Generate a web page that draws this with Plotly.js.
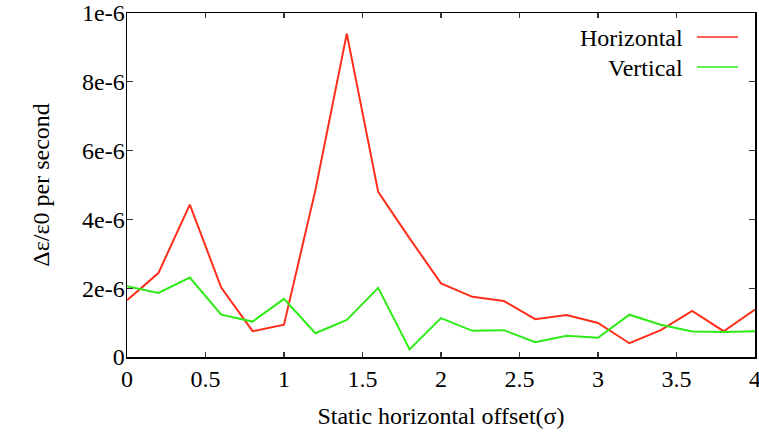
<!DOCTYPE html>
<html>
<head>
<meta charset="utf-8">
<script src="https://cdn.plot.ly/plotly-3.0.1.min.js"></script>
<style>html,body{margin:0;padding:0;background:#fff;}#chart{width:759px;height:433px;}</style>
</head>
<body>
<div id="chart"></div>
<script>
const offsets = [0, 0.2, 0.4, 0.6, 0.8, 1.0, 1.2, 1.4, 1.6, 1.8, 2.0, 2.2, 2.4, 2.6, 2.8, 3.0, 3.2, 3.4, 3.6, 3.8, 4.0];
const horizontal = [1.65e-6, 2.44e-6, 4.43e-6, 2.02e-6, 0.75e-6, 0.94e-6, 4.85e-6, 9.4e-6, 4.8e-6, 3.45e-6, 2.14e-6, 1.75e-6, 1.63e-6, 1.1e-6, 1.22e-6, 0.99e-6, 0.4e-6, 0.78e-6, 1.34e-6, 0.75e-6, 1.38e-6];
const vertical = [2.06e-6, 1.86e-6, 2.31e-6, 1.23e-6, 1.03e-6, 1.69e-6, 0.69e-6, 1.08e-6, 2.01e-6, 0.22e-6, 1.13e-6, 0.76e-6, 0.78e-6, 0.43e-6, 0.62e-6, 0.56e-6, 1.23e-6, 0.94e-6, 0.74e-6, 0.73e-6, 0.75e-6];
const yTickVals = [0, 2e-6, 4e-6, 6e-6, 8e-6, 1e-5];
const yTickText = ["0", "2e-6", "4e-6", "6e-6", "8e-6", "1e-6"];
const xTickVals = [0, 0.5, 1, 1.5, 2, 2.5, 3, 3.5, 4];
const xTickText = ["0", "0.5", "1", "1.5", "2", "2.5", "3", "3.5", "4"];
const seriesNames = ["Horizontal", "Vertical"];

const red = "rgb(255,45,25)";
const green = "rgb(45,235,20)";
const font = "Tinos, 'Nimbus Roman', 'Nimbus Roman No9 L', FreeSerif, 'DejaVu Serif'";
const fs = 24;

const traces = [
  {x: offsets, y: horizontal, name: seriesNames[0], mode: "lines", line: {color: red, width: 2}},
  {x: offsets, y: vertical, name: seriesNames[1], mode: "lines", line: {color: green, width: 2}}
];

const L = 127, R = 4, T = 13, B = 76;
const W = 759 - L - R, H = 433 - T - B;
function px(x){ return (x - L) / W; }
function py(y){ return (433 - B - y) / H; }

const layout = {
  width: 759, height: 433,
  margin: {l: L, r: R, t: T, b: B},
  paper_bgcolor: "#fff", plot_bgcolor: "#fff",
  showlegend: false,
  font: {family: font, size: fs, color: "#000"},
  xaxis: {
    range: [0, 4], tickvals: xTickVals, ticktext: xTickText,
    ticks: "inside", ticklen: 5, tickwidth: 1.2, tickcolor: "#333",
    showline: true, linecolor: "#000", linewidth: 1.5, mirror: "ticks",
    showgrid: false, zeroline: false, ticklabeloverflow: "allow",
    tickfont: {family: font, size: fs},
    title: {text: "Static horizontal offset(σ)", font: {family: font, size: fs}, standoff: 16}
  },
  yaxis: {
    range: [0, 1e-5], tickvals: yTickVals, ticktext: yTickText,
    ticks: "inside", ticklen: 6, tickwidth: 1.2, tickcolor: "#333",
    showline: true, linecolor: "#000", linewidth: 1.5, mirror: "ticks",
    showgrid: false, zeroline: false, ticklabelstandoff: -4,
    tickfont: {family: font, size: fs},
    title: {text: "Δε/ε0 per second", font: {family: font, size: fs}, standoff: 25}
  },
  annotations: [
    {xref: "paper", yref: "paper", x: px(685), y: py(38), xanchor: "right", yanchor: "middle", text: seriesNames[0], showarrow: false, font: {family: font, size: fs}},
    {xref: "paper", yref: "paper", x: px(685), y: py(68), xanchor: "right", yanchor: "middle", text: seriesNames[1], showarrow: false, font: {family: font, size: fs}}
  ],
  shapes: [
    {type: "line", xref: "paper", yref: "paper", x0: px(697), x1: px(738), y0: py(37), y1: py(37), line: {color: red, width: 1.5}},
    {type: "line", xref: "paper", yref: "paper", x0: px(697), x1: px(738), y0: py(67), y1: py(67), line: {color: green, width: 1.5}}
  ]
};

Plotly.newPlot("chart", traces, layout, {displayModeBar: false, staticPlot: true});
</script>
</body>
</html>
